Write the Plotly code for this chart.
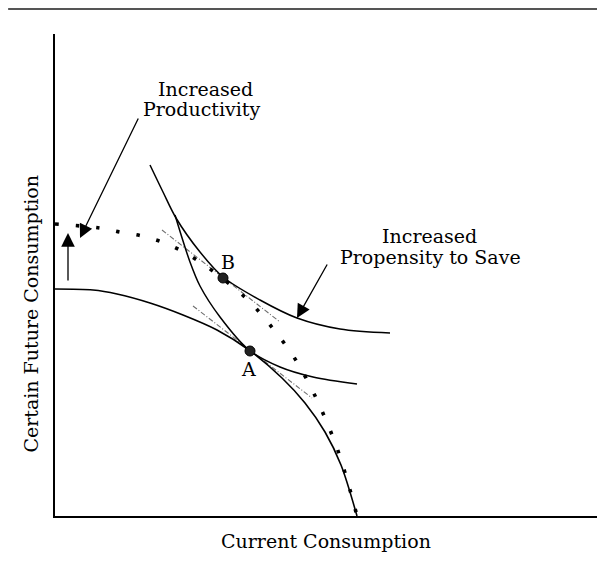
import plotly.graph_objects as go

# ---- data (units: arbitrary diagram units) ----
ppf_x = [0, 38, 62, 95, 128, 162, 194, 227, 250, 270, 286, 302]
ppf_y = [227, 226, 222, 213, 201, 186, 166, 138, 113, 84, 51, 0]

ppf_new_x = [0, 45, 65, 87, 107, 125, 145, 167, 195, 223, 242, 262, 282, 295, 302]
ppf_new_y = [292, 288, 284, 280, 274, 266, 254, 238, 214, 181, 154, 116, 68, 26, 0]

ic_high_x = [95, 108, 121, 145, 168, 205, 242, 285, 335]
ic_high_y = [351, 324, 298, 264, 239, 216, 198, 187, 183]

ic_low_x = [120, 135, 145, 165, 194, 225, 258, 302]
ic_low_y = [301, 254, 230, 199, 166, 149, 139, 132]

tan_b_x = [107, 225]
tan_b_y = [286, 194]
tan_a_x = [138, 257]
tan_a_y = [210, 118]

points_x = [168, 195]
points_y = [238, 165]
point_labels = ["B", "A"]
label_x = [173, 193]
label_y = [254, 147]

prod_lines = ["Increased", "Productivity"]
prod_x = [150, 147]
prod_y = [427, 407]
save_lines = ["Increased", "Propensity to Save"]
save_x = [374, 375]
save_y = [280, 259]

x_title = "Current Consumption"
y_title = "Certain Future Consumption"

FONT = "DejaVu Serif"
FS = 19

fig = go.Figure()

def add_line(x, y, width=1.5, dash=None, color="black", shape="spline"):
    fig.add_trace(go.Scatter(
        x=x, y=y, mode="lines",
        line=dict(color=color, width=width, dash=dash, shape=shape, smoothing=0.9),
        hoverinfo="skip", showlegend=False))

add_line(tan_b_x, tan_b_y, width=1.1, dash="5px,2px,1px,2px", color="#6e6e6e", shape="linear")
add_line(tan_a_x, tan_a_y, width=1.1, dash="5px,2px,1px,2px", color="#6e6e6e", shape="linear")
add_line(ppf_x, ppf_y, width=1.6)
add_line(ic_high_x, ic_high_y, width=1.5)
add_line(ic_low_x, ic_low_y, width=1.5)
add_line(ppf_new_x, ppf_new_y, width=3.6, dash="3.5px,17px")

fig.add_trace(go.Scatter(
    x=points_x, y=points_y, mode="markers",
    marker=dict(color="#222", size=10, line=dict(color="black", width=1)),
    hoverinfo="skip", showlegend=False))

for t, lx, ly in zip(point_labels, label_x, label_y):
    fig.add_annotation(x=lx, y=ly, text=t, showarrow=False,
                       font=dict(family=FONT, size=FS, color="black"))

for t, lx, ly in zip(prod_lines, prod_x, prod_y):
    fig.add_annotation(x=lx, y=ly, text=t, showarrow=False,
                       font=dict(family=FONT, size=FS, color="black"))
for t, lx, ly in zip(save_lines, save_x, save_y):
    fig.add_annotation(x=lx, y=ly, text=t, showarrow=False,
                       font=dict(family=FONT, size=FS, color="black"))

def arrow(x0, y0, x1, y1):
    fig.add_annotation(x=x1, y=y1, ax=x0, ay=y0, xref="x", yref="y",
                       axref="x", ayref="y", text="", showarrow=True,
                       arrowhead=2, arrowsize=2.1, arrowwidth=1.3, arrowcolor="black")

arrow(84, 399, 25, 278)
arrow(13, 234, 13, 283)
arrow(273, 253, 242, 198)

# axis titles
fig.add_annotation(x=0.497, y=-0.052, xref="paper", yref="paper", text=x_title,
                   xanchor="center", yanchor="middle",
                   showarrow=False, font=dict(family=FONT, size=FS, color="black"))
fig.add_annotation(x=-0.044, y=0.42, xref="paper", yref="paper", text=y_title,
                   xanchor="center", yanchor="middle",
                   showarrow=False, textangle=-90,
                   font=dict(family=FONT, size=FS, color="black"))

# scan rule at top
fig.add_shape(type="line", xref="paper", yref="paper", x0=-0.086, x1=1.01,
              y0=1.052, y1=1.052, line=dict(color="#555", width=2))

fig.update_layout(
    width=597, height=553,
    margin=dict(l=47, r=5, t=26, b=45),
    paper_bgcolor="white", plot_bgcolor="white",
    xaxis=dict(range=[0, 545], showgrid=False, zeroline=False, showticklabels=False,
               ticks="", showline=True, linecolor="black", linewidth=2, fixedrange=True),
    yaxis=dict(range=[0, 482], showgrid=False, zeroline=False, showticklabels=False,
               ticks="", showline=True, linecolor="black", linewidth=1.5, fixedrange=True),
)

fig.write_html("out.html")
